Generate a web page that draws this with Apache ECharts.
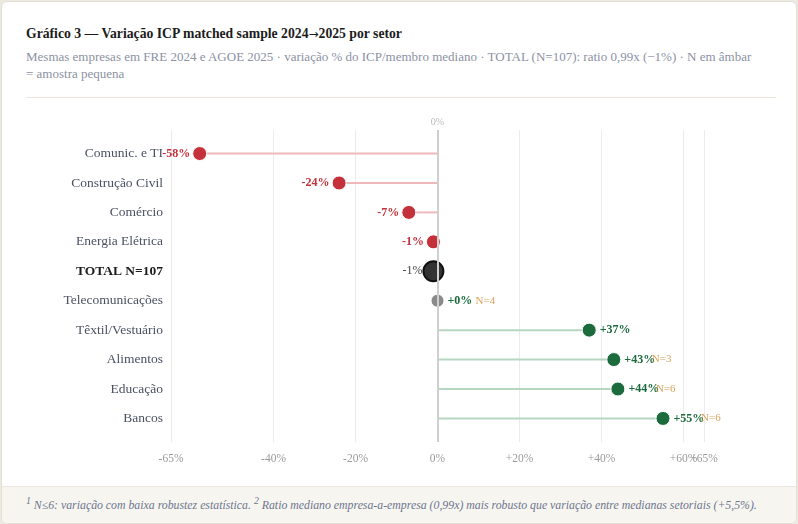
<!DOCTYPE html>
<html>
<head>
<meta charset="utf-8">
<script src="https://cdn.jsdelivr.net/npm/echarts@6/dist/echarts.min.js"></script>
<style>
  html, body { margin: 0; padding: 0; background: #ece9e1; width: 798px; height: 524px; overflow: hidden; }
  #card { position: absolute; left: 1px; top: 1px; width: 794px; height: 521px; background: #fff; border: 1px solid #e4e0d6; border-radius: 6px; overflow: hidden; font-family: "Liberation Serif", serif; }
  #title { position: absolute; left: 24px; top: 24px; font-size: 13.7px; font-weight: bold; color: #1c1c1c; white-space: nowrap; }
  #title .ar { font-family: "DejaVu Sans", sans-serif; font-size: 12px; font-weight: normal; }
  #sub { position: absolute; left: 24px; top: 46px; width: 726px; font-size: 13px; line-height: 17px; color: #8c91a4; }
  #rule { position: absolute; left: 24px; top: 95px; width: 750px; height: 1px; background: #ebe7de; }
  #foot { position: absolute; left: 0; top: 484px; width: 794px; height: 40px; background: #f7f5ef; border-top: 1px solid #ebe7de; }
  #foot div { position: absolute; left: 24px; top: 8px; font-size: 11.8px; font-style: italic; color: #6e7690; white-space: nowrap; }
  #chart { position: absolute; left: 0; top: 0; width: 798px; height: 524px; }
</style>
</head>
<body>
<div id="card">
  <div id="title">Gráfico 3 — Variação ICP matched sample 2024<span class="ar">→</span>2025 por setor</div>
  <div id="sub">Mesmas empresas em FRE 2024 e AGOE 2025 · variação % do ICP/membro mediano · TOTAL (N=107): ratio 0,99x (−1%) · N em âmbar = amostra pequena</div>
  <div id="rule"></div>
  <div id="foot"><div><sup>1</sup> N≤6: variação com baixa robustez estatística. <sup>2</sup> Ratio mediano empresa-a-empresa (0,99x) mais robusto que variação entre medianas setoriais (+5,5%).</div></div>
</div>
<div id="chart"></div>
<script>
const categories = ['Comunic. e TI', 'Construção Civil', 'Comércio', 'Energia Elétrica', 'TOTAL N=107', 'Telecomunicações', 'Têxtil/Vestuário', 'Alimentos', 'Educação', 'Bancos'];
const variation = [-58, -24, -7, -1, -1, 0, 37, 43, 44, 55];
const sampleN = [null, null, null, null, null, 4, null, 3, 6, 6];
const totalIndex = 4;
const xTicksMain = [-65, -40, -20, 0, 20, 40, 60];
const xTicksExtra = [65];

const RED = '#c4313a', GREEN = '#1b6b3c', AMBER = '#d08a2e';
const FONT = '"Liberation Serif", serif';

function fmtAxis(v) { return (v > 0 ? '+' : '') + v + '%'; }
function fmtVal(v) { return (v >= 0 ? '+' : '') + v + '%'; }

const chart = echarts.init(document.getElementById('chart'), null, { renderer: 'canvas' });

const pts = variation.map((v, i) => {
  let color, size, border = '#fff', bw = 1, label;
  if (i === totalIndex) { color = '#333'; size = 20; border = '#111'; bw = 2;
    label = { position: 'left', distance: 0, color: '#444', fontWeight: 'normal' }; }
  else if (v < 0) { color = RED; size = 14;
    label = { position: 'left', distance: 2, color: RED, fontWeight: 'bold' }; }
  else if (v === 0) { color = '#8a8a8a'; size = 13;
    label = { position: 'right', distance: 3, color: GREEN, fontWeight: 'bold' }; }
  else { color = GREEN; size = 14;
    label = { position: 'right', distance: 3, color: GREEN, fontWeight: 'bold' }; }
  return { value: [v, i], symbolSize: size, itemStyle: { color, borderColor: border, borderWidth: bw, opacity: 1 }, label };
});

const nPts = variation.map((v, i) => sampleN[i] == null ? null : { value: [v, i], n: sampleN[i] }).filter(Boolean);

function xAxisDef(ticks) {
  return {
    type: 'value', min: -65, max: 65, position: 'bottom',
    axisLine: { show: false },
    axisTick: { show: false, customValues: ticks },
    axisLabel: { customValues: ticks, formatter: fmtAxis, color: '#9a9a9a', fontSize: 11.5, fontFamily: FONT, margin: 11 },
    splitLine: { show: true, lineStyle: { color: '#ebebeb', width: 1 } }
  };
}

chart.setOption({
  animation: false,
  grid: { left: 171, right: 94, top: 130, bottom: 82 },
  xAxis: [xAxisDef(xTicksMain), xAxisDef(xTicksExtra)],
  yAxis: {
    type: 'value', inverse: true, min: -0.8, max: 9.8,
    axisLine: { show: false }, axisTick: { show: false }, splitLine: { show: false },
    axisLabel: {
      customValues: categories.map((c, i) => i),
      margin: 8,
      formatter: (v) => v === totalIndex ? '{b|' + categories[v] + '}' : '{n|' + categories[v] + '}',
      rich: {
        n: { color: '#4b5163', fontSize: 13.5, fontFamily: FONT },
        b: { color: '#1c1c1c', fontSize: 13.5, fontFamily: FONT, fontWeight: 'bold' }
      }
    }
  },
  series: [
    {
      type: 'custom',
      data: variation.map((v, i) => [v, i]),
      renderItem: (params, api) => {
        const v = api.value(0), i = api.value(1);
        if (v === 0 || i === totalIndex) return null;
        const a = api.coord([0, i]), b = api.coord([v, i]);
        return { type: 'line', shape: { x1: a[0], y1: a[1], x2: b[0], y2: b[1] },
          style: { stroke: v < 0 ? '#efb9bc' : '#b7d6c2', lineWidth: 2 } };
      },
      markLine: {
        silent: true, symbol: 'none',
        lineStyle: { color: '#cfcfcf', width: 2, type: 'solid' },
        label: { show: true, position: 'start', formatter: '0%', color: '#b8b8b8', fontSize: 10, fontFamily: FONT, distance: 3 },
        data: [{ xAxis: 0 }]
      },
      z: 1
    },
    {
      type: 'scatter',
      data: pts,
      itemStyle: { opacity: 1 },
      label: { show: true, fontSize: 12, fontFamily: FONT, formatter: (p) => fmtVal(p.value[0]) },
      z: 3
    },
    {
      type: 'scatter',
      data: nPts,
      symbolSize: 0,
      itemStyle: { color: 'transparent' },
      label: { show: true, position: 'right', distance: 0, offset: [38, 0], color: AMBER, fontSize: 11, fontFamily: FONT, formatter: (p) => 'N=' + p.data.n },
      z: 4
    }
  ]
});
</script>
</body>
</html>
